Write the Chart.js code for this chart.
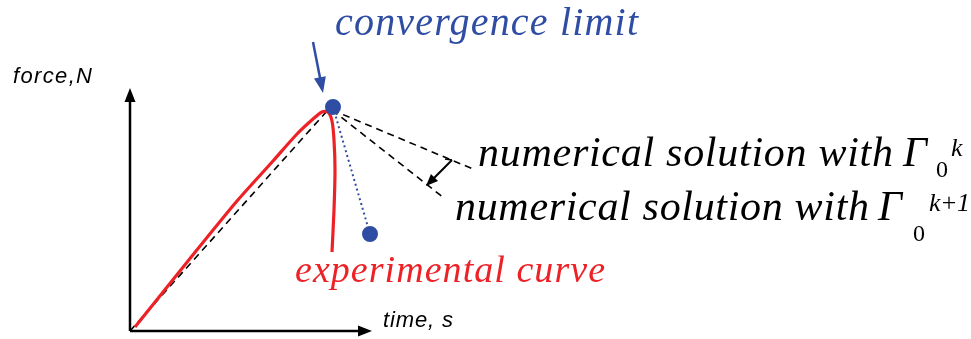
<!DOCTYPE html>
<html>
<head>
<meta charset="utf-8">
<script src="https://cdn.jsdelivr.net/npm/chart.js@4.4.1/dist/chart.umd.min.js"></script>
<style>
  html,body{margin:0;padding:0;background:#fff}
  #wrap{width:971px;height:339px;position:relative}
</style>
</head>
<body>
<div id="wrap"><canvas id="chart"></canvas></div>
<script>
// values (time, s / force, N - arbitrary units)
const expTime   = [0.05,0.58,1.07,1.43,1.67,1.83,1.92,1.98,2.02,2.04,2.05,2.04,2.02];
const expForce  = [0.04,0.70,1.30,1.70,1.97,2.12,2.19,2.19,2.10,1.91,1.61,1.21,0.79];
const linTime   = [0,1.97];
const linForce  = [0,2.20];
const numKTime  = [2.02,3.43];
const numKForce = [2.21,1.62];
const numK1Time = [2.02,3.14];
const numK1Force= [2.21,1.33];
const limitTime = [2.03,2.40];
const limitForce= [2.24,0.97];
const axisEnd   = {time:2.42, force:2.43};

const RED='#ED2227', BLUE='#2E4DA3';
const pts=(xs,ys)=>xs.map((x,i)=>({x,y:ys[i]}));

// text fitted to a width with letter spacing
function fitText(ctx,txt,x,y,w,font,color){
  ctx.font=font; ctx.fillStyle=color; ctx.letterSpacing='0px';
  const m=ctx.measureText(txt).width;
  const sp=txt.length>1?(w-m)/(txt.length-1):0;
  ctx.letterSpacing=sp+'px';
  ctx.fillText(txt,x,y);
  ctx.letterSpacing='0px';
}
function arrow(ctx,x1,y1,x2,y2,color,lw,hl,hw){
  const a=Math.atan2(y2-y1,x2-x1);
  ctx.save();
  ctx.strokeStyle=color; ctx.fillStyle=color; ctx.lineWidth=lw; ctx.setLineDash([]);
  ctx.beginPath(); ctx.moveTo(x1,y1); ctx.lineTo(x2-Math.cos(a)*hl*0.8,y2-Math.sin(a)*hl*0.8); ctx.stroke();
  ctx.beginPath();
  ctx.moveTo(x2,y2);
  ctx.lineTo(x2-Math.cos(a)*hl+Math.sin(a)*hw/2,y2-Math.sin(a)*hl-Math.cos(a)*hw/2);
  ctx.lineTo(x2-Math.cos(a)*hl-Math.sin(a)*hw/2,y2-Math.sin(a)*hl+Math.cos(a)*hw/2);
  ctx.closePath(); ctx.fill();
  ctx.restore();
}

const sketch={
  id:'sketch',
  afterDatasetsDraw(chart){
    const {ctx,scales:{x,y}}=chart;
    const X=v=>x.getPixelForValue(v), Y=v=>y.getPixelForValue(v);
    // axes
    arrow(ctx,X(0),Y(0),X(0),Y(axisEnd.force),'#000',2.5,14,11);
    arrow(ctx,X(0),Y(0),X(axisEnd.time),Y(0),'#000',2.5,14,11);
    // annotation arrows
    arrow(ctx,X(1.83),Y(2.89),X(1.93),Y(2.38),BLUE,2.5,16,12);
    arrow(ctx,X(3.22),Y(1.71),X(2.96),Y(1.45),'#000',2,12,10);
    ctx.save();
    ctx.strokeStyle='#000'; ctx.lineWidth=1.5;
    ctx.beginPath(); ctx.moveTo(X(3.22),Y(1.71)); ctx.lineTo(X(3.15),Y(1.72)); ctx.stroke();
    ctx.restore();
    // labels
    ctx.save();
    ctx.textBaseline='alphabetic'; ctx.textAlign='left';
    const SANS='italic 22px "Liberation Sans", Arial, sans-serif';
    const SERIF=s=>'italic '+s+'px "Liberation Serif", "Times New Roman", serif';
    fitText(ctx,'force,N',13,83,79,SANS,'#000');
    fitText(ctx,'time, s',383,327,70,SANS,'#000');
    fitText(ctx,'convergence limit',335,35,303,SERIF(40),BLUE);
    fitText(ctx,'experimental curve',295,282,310,SERIF(38),RED);
    fitText(ctx,'numerical solution with',478,166,415,SERIF(42),'#000');
    fitText(ctx,'Γ',903,166,25,SERIF(42),'#000');
    fitText(ctx,'0',936,177,11,'24px "Liberation Serif", serif','#000');
    fitText(ctx,'k',951,156,10,SERIF(26),'#000');
    fitText(ctx,'numerical solution with',455,220,414,SERIF(42),'#000');
    fitText(ctx,'Γ',878,220,25,SERIF(42),'#000');
    fitText(ctx,'0',913,241,11,'24px "Liberation Serif", serif','#000');
    fitText(ctx,'k+1',929,211,41,SERIF(26),'#000');
    ctx.restore();
  }
};

new Chart(document.getElementById('chart'),{
  type:'scatter',
  data:{datasets:[
    {label:'convergence limit',data:pts(limitTime,limitForce),showLine:true,
     borderColor:BLUE,borderWidth:2,borderDash:[2,3],pointRadius:7,
     pointBackgroundColor:BLUE,pointBorderColor:BLUE,order:0},
    {label:'experimental curve',data:pts(expTime,expForce),showLine:true,
     borderColor:RED,borderWidth:3.2,tension:0.25,pointRadius:0,order:1},
    {label:'linear',data:pts(linTime,linForce),showLine:true,
     borderColor:'#000',borderWidth:1.6,borderDash:[7,5],pointRadius:0,order:2},
    {label:'numerical k',data:pts(numKTime,numKForce),showLine:true,
     borderColor:'#000',borderWidth:1.6,borderDash:[7,5],pointRadius:0,order:2},
    {label:'numerical k+1',data:pts(numK1Time,numK1Force),showLine:true,
     borderColor:'#000',borderWidth:1.6,borderDash:[7,5],pointRadius:0,order:2}
  ]},
  options:{
    responsive:true,maintainAspectRatio:false,animation:false,
    layout:{padding:0,autoPadding:false},
    plugins:{legend:{display:false},tooltip:{enabled:false}},
    scales:{
      x:{type:'linear',min:-1.30,max:8.41,display:false},
      y:{type:'linear',min:-0.08,max:3.31,display:false}
    }
  },
  plugins:[sketch]
});
</script>
</body>
</html>
